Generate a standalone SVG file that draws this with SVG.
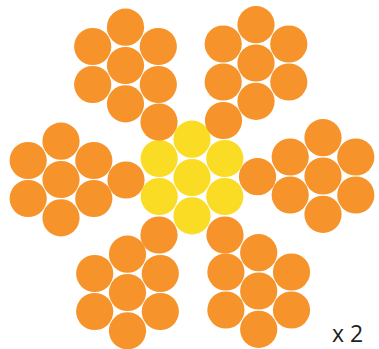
<svg xmlns="http://www.w3.org/2000/svg" xmlns:xlink="http://www.w3.org/1999/xlink" width="379" height="349" viewBox="0 0 379 349">
<style>
.o{fill:#F6932A}
.y{fill:#FBDC25}
.t{font-family:"Open Sans","Liberation Sans",sans-serif;font-size:23px;fill:#231F20}
</style>
<defs>
<g id="flower">
<circle cx="0" cy="-38.3" r="18.6"/>
<circle cx="-32.8" cy="-19" r="18.6"/>
<circle cx="32.8" cy="-19" r="18.6"/>
<circle cx="0" cy="0" r="18.6"/>
<circle cx="-32.8" cy="19" r="18.6"/>
<circle cx="32.8" cy="19" r="18.6"/>
<circle cx="0" cy="38.3" r="18.6"/>
</g>
</defs>
<rect width="379" height="349" fill="#fff"/>
<g id="center-cluster" class="y"><use xlink:href="#flower" x="192" y="177.5"/></g>
<g id="cluster-top-left" class="o"><use xlink:href="#flower" x="125.5" y="65.5"/></g>
<g id="cluster-top-right" class="o"><use xlink:href="#flower" x="256" y="63"/></g>
<g id="cluster-right" class="o"><use xlink:href="#flower" x="323" y="176"/></g>
<g id="cluster-left" class="o"><use xlink:href="#flower" x="61" y="179.5"/></g>
<g id="cluster-bottom-left" class="o"><use xlink:href="#flower" x="127.5" y="292.5"/></g>
<g id="cluster-bottom-right" class="o"><use xlink:href="#flower" x="258.7" y="291"/></g>
<g id="links" class="o">
<circle cx="159" cy="122" r="18.6"/>
<circle cx="223.5" cy="120.5" r="18.6"/>
<circle cx="257.5" cy="176.7" r="18.6"/>
<circle cx="126" cy="180" r="18.6"/>
<circle cx="159" cy="235" r="18.6"/>
<circle cx="225" cy="235" r="18.6"/>
</g>
<text class="t" x="332" y="342">x 2</text>
</svg>
